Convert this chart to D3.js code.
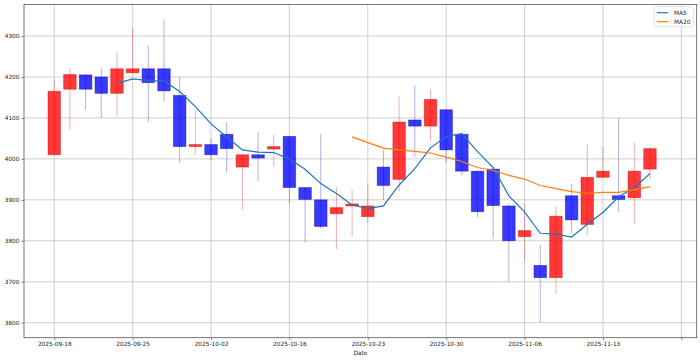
<!DOCTYPE html>
<html>
<head>
<meta charset="utf-8">
<script src="https://cdn.jsdelivr.net/npm/d3@7"></script>
<style>
  html, body { margin: 0; padding: 0; background: #fff; }
  svg { display: block; font-family: "DejaVu Sans", sans-serif; }
</style>
</head>
<body>
<svg id="chart" width="700" height="361"></svg>
<script>
// ---- data ----
const openV  = [4010,4170,4205,4200,4160,4210,4220,4220,4155,4030,4035,4060,3980,4010,4024,4055,3930,3900,3866,3885,3859,3980,3950,4095,4080,4120,4060,3970,3975,3885,3810,3740,3710,3910,3840,3955,3910,3905,3975];
const closeV = [4165,4206,4170,4160,4220,4220,4186,4166,4030,4035,4010,4025,4010,4002,4030,3930,3901,3835,3881,3890,3885,3935,4090,4080,4145,4022,3970,3871,3886,3800,3825,3710,3860,3851,3955,3970,3901,3970,4025];
const highV  = [4195,4221,4207,4221,4260,4321,4276,4340,4200,4120,4050,4090,4012,4066,4060,4056,3931,4060,3931,3924,3940,4022,4152,4180,4170,4120,4064,3971,3980,3890,3890,3790,3885,3940,4036,4031,4100,4040,4031];
const lowV   = [4009,4070,4120,4100,4105,4208,4090,4140,3990,4010,3997,3966,3875,3946,3981,3890,3795,3830,3780,3810,3844,3900,3920,4005,4045,3990,3960,3858,3805,3700,3750,3600,3670,3818,3814,3955,3870,3840,3950];
// moving averages (start index 4 for MA5, 19 for MA20)
const ma5  = [4184.2,4195.2,4191.2,4190.4,4164.4,4127.4,4085.4,4053.2,4022.0,4016.4,4015.4,3999.4,3974.6,3939.6,3915.4,3887.4,3878.4,3885.2,3936.2,3976.0,4027.0,4054.4,4061.4,4017.6,3978.8,3909.8,3870.4,3818.4,3816.2,3809.2,3840.2,3869.2,3907.4,3929.4,3964.2];
const ma20 = [4053.6,4039.6,4026.1,4022.1,4018.1,4014.3,4004.4,3993.6,3978.9,3971.7,3959.9,3950.7,3934.9,3927.4,3919.9,3916.1,3918.1,3918.1,3924.9,3932.1];
const ma5Start = 4, ma20Start = 19;
const xTickPos    = [0,5,10,15,20,25,30,35,40];
const xTickLabels = ["2025-09-18","2025-09-25","2025-10-02","2025-10-16","2025-10-23","2025-10-30","2025-11-06","2025-11-13",""];
const yTicks = [3600,3700,3800,3900,4000,4100,4200,4300];

// ---- layout ----
const svg = d3.select("#chart");
const L = 24, R = 696.7, T = 4.5, B = 337.7;
const x = d3.scaleLinear().domain([-1.93, 40.98]).range([L, R]);
const y = d3.scaleLinear().domain([3563.4, 4376.9]).range([B, T]);
const bodyW = x(0.8) - x(0);

const candles = closeV.map((c, i) => ({i, o: openV[i], c, h: highV[i], l: lowV[i]}));

// grid
const grid = svg.append("g");
grid.selectAll(".hg").data(yTicks).join("line")
  .attr("x1", L).attr("x2", R).attr("y1", d => y(d)).attr("y2", d => y(d))
  .attr("stroke", "#b0b0b0").attr("stroke-opacity", 0.6).attr("stroke-width", 1);
grid.selectAll(".vg").data(xTickPos).join("line")
  .attr("y1", T).attr("y2", B).attr("x1", d => x(d)).attr("x2", d => x(d))
  .attr("stroke", "#b0b0b0").attr("stroke-opacity", 0.6).attr("stroke-width", 1);

// clip
svg.append("clipPath").attr("id", "clip").append("rect")
  .attr("x", L).attr("y", T).attr("width", R - L).attr("height", B - T);
const plot = svg.append("g").attr("clip-path", "url(#clip)");

// wicks
plot.selectAll(".wick").data(candles).join("line")
  .attr("x1", d => x(d.i)).attr("x2", d => x(d.i))
  .attr("y1", d => y(d.h)).attr("y2", d => y(d.l))
  .attr("stroke", d => d.c >= d.o ? "#e05050" : "#5050c0")
  .attr("stroke-opacity", 0.45).attr("stroke-width", 1);

// bodies
plot.selectAll(".body").data(candles).join("rect")
  .attr("x", d => x(d.i) - bodyW / 2)
  .attr("width", bodyW)
  .attr("y", d => y(Math.max(d.o, d.c)))
  .attr("height", d => Math.max(1, Math.abs(y(d.o) - y(d.c))))
  .attr("fill", d => d.c >= d.o ? "rgba(255,0,0,0.78)" : "rgba(0,0,255,0.78)")
  .attr("stroke", d => d.c >= d.o ? "rgba(190,0,0,0.45)" : "rgba(0,0,140,0.45)")
  .attr("stroke-width", 0.8);

// MA lines
const line = d3.line().x(d => x(d[0])).y(d => y(d[1]));
plot.append("path").datum(ma5.map((v, k) => [k + ma5Start, v]))
  .attr("d", line).attr("fill", "none").attr("stroke", "#1f77b4").attr("stroke-width", 1.2);
plot.append("path").datum(ma20.map((v, k) => [k + ma20Start, v]))
  .attr("d", line).attr("fill", "none").attr("stroke", "#ff7f0e").attr("stroke-width", 1.2);

// axes
const fs = 5.8;
const xAxis = d3.axisBottom(x).tickValues(xTickPos).tickFormat((d, k) => xTickLabels[k]).tickSize(2.5).tickPadding(2);
const gx = svg.append("g").attr("transform", `translate(0,${B})`).call(xAxis);
const yAxis = d3.axisLeft(y).tickValues(yTicks).tickFormat(d3.format("d")).tickSize(2.5).tickPadding(2);
const gy = svg.append("g").attr("transform", `translate(${L},0)`).call(yAxis);
[gx, gy].forEach(g => {
  g.select(".domain").remove();
  g.selectAll(".tick line").attr("stroke", "#333").attr("stroke-width", 0.6);
  g.selectAll(".tick text").attr("fill", "#222").style("font-size", fs + "px").style("font-family", "DejaVu Sans");
});

// spines
svg.append("rect").attr("x", L).attr("y", T).attr("width", R - L).attr("height", B - T)
  .attr("fill", "none").attr("stroke", "#555").attr("stroke-width", 0.8);

// x label
svg.append("text").attr("x", (L + R) / 2).attr("y", 355).attr("text-anchor", "middle")
  .style("font-size", fs + "px").attr("fill", "#222").text("Date");

// legend
const lg = svg.append("g");
lg.append("rect").attr("x", 654.3).attr("y", 6.7).attr("width", 39).attr("height", 20).attr("rx", 1.5)
  .attr("fill", "#fff").attr("fill-opacity", 0.8).attr("stroke", "#d0d0d0").attr("stroke-width", 0.6);
const legendItems = [{name: "MA5", color: "#1f77b4"}, {name: "MA20", color: "#ff7f0e"}];
legendItems.forEach((it, k) => {
  const yy = 12.7 + k * 9;
  lg.append("line").attr("x1", 656.7).attr("x2", 668.3).attr("y1", yy).attr("y2", yy)
    .attr("stroke", it.color).attr("stroke-width", 1.2);
  lg.append("text").attr("x", 674).attr("y", yy).attr("dy", "0.35em")
    .style("font-size", fs + "px").attr("fill", "#222").text(it.name);
});
</script>
</body>
</html>
